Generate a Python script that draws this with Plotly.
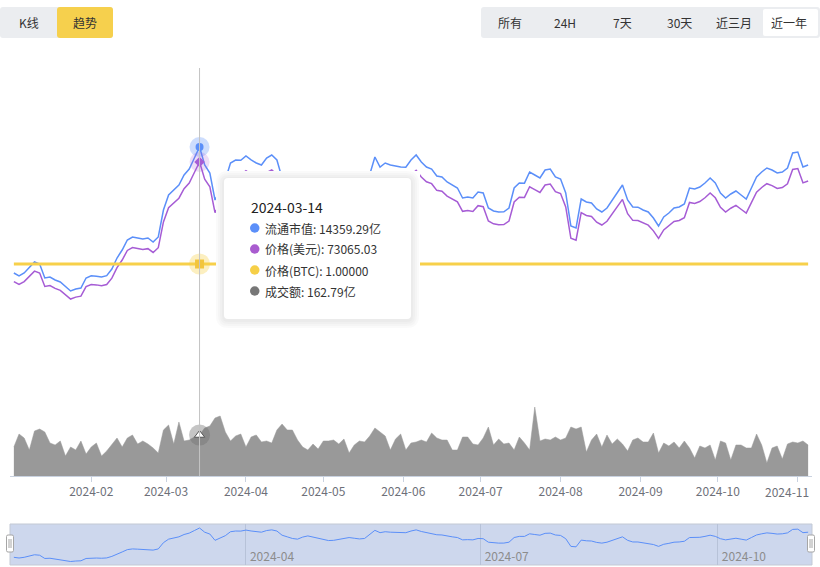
import pandas as pd
import plotly.graph_objects as go

W, H = 820, 567
FONT = "Noto Sans CJK SC, Noto Sans, sans-serif"

# ---------------- data ----------------
dates = pd.date_range("2024-01-02", periods=155, freq="2D")

market_cap = [  # 流通市值 (亿)
    8570, 8432, 8570, 8799, 9075, 8983, 8340, 8386, 8248, 8156,
    7926, 7742, 7834, 7880, 8340, 8441, 8425, 8386, 8447, 8753,
    9259, 9626, 10086, 10224, 10178, 10132, 10178, 9994, 10224, 11464,
    12154, 12383, 12613, 13073, 13348, 13854, 14359.29, 13532, 13165, 11924,
    12383, 12843, 13624, 13762, 13748, 13946, 13770, 13624, 13532, 13854,
    13992, 13762, 12935, 12613, 12292, 12154, 12567, 12797, 12567, 12383,
    12154, 11878, 11924, 12154, 12383, 12475, 12337, 12200, 12292, 13073,
    13900, 13440, 13624, 13532, 13486, 13440, 13431, 13762, 13992, 13670,
    13440, 13348, 13027, 12981, 12751, 12613, 12475, 12016, 12062, 12016,
    12292, 12246, 11556, 11418, 11373, 11380, 11556, 12475, 12705, 12698,
    13211, 13073, 12935, 13302, 13348, 12981, 12889, 12246, 10729, 10637,
    11970, 11832, 11786, 11510, 11373, 11556, 11924, 12292, 12613, 11924,
    11602, 11595, 11464, 11373, 11097, 10729, 11143, 11327, 11556, 11602,
    11740, 12475, 12429, 12521, 12705, 12935, 12705, 12246, 12016, 12200,
    12337, 12154, 11970, 12475, 12981, 13211, 13394, 13302, 13165, 13211,
    13394, 14084, 14130, 13440, 13532,
]

price_usd = [  # 价格(美元)
    43767, 43054, 43758, 44919, 46328, 45849, 42567, 42794, 42090, 41612,
    40438, 39492, 39961, 40188, 42534, 43041, 42960, 42752, 43063, 44614,
    47193, 49054, 51398, 52091, 51857, 51612, 51837, 50900, 52061, 58375,
    61876, 63042, 64200, 66542, 67928, 70503, 73065.03, 68852, 66982, 60665,
    62995, 65332, 69301, 70000, 69925, 70928, 70029, 69284, 68812, 70444,
    71143, 69970, 65762, 64120, 62486, 61782, 63877, 65043, 63870, 62932,
    61765, 60358, 60590, 61754, 62915, 63378, 62675, 61975, 62438, 66402,
    70599, 68259, 69189, 68718, 68482, 68244, 68194, 69870, 71036, 69397,
    68225, 67755, 66122, 65885, 64714, 64010, 63305, 60973, 61203, 60967,
    62366, 62128, 58624, 57919, 57689, 57721, 58611, 63267, 64432, 64392,
    66991, 66287, 65584, 67441, 67672, 65807, 65337, 62074, 54381, 53911,
    60665, 59963, 59726, 58323, 57627, 58551, 60412, 62273, 63897, 60402,
    58767, 58729, 58063, 57597, 56197, 54330, 56424, 57353, 58509, 58739,
    59435, 63152, 62916, 63377, 64307, 65467, 64299, 61972, 60806, 61733,
    62423, 61493, 60560, 63111, 65667, 66827, 67749, 67279, 66583, 66812,
    67734, 71220, 71447, 67955, 68418,
]

btc_price = [1.00000] * len(dates)  # 价格(BTC): BTC priced in BTC is always 1

volume = [  # 成交额 (亿)
    115.1, 166.7, 150.9, 103.2, 178.7, 186.6, 174.7, 131.0, 123.1, 139.0,
    79.4, 115.1, 103.2, 139.0, 87.3, 115.1, 131.0, 79.4, 99.3, 123.1,
    150.9, 115.1, 150.9, 162.8, 127.0, 139.0, 127.0, 111.2, 91.3, 182.6,
    202.5, 127.0, 214.4, 139.0, 142.9, 154.8, 162.79, 190.6, 198.5, 230.3,
    238.2, 174.7, 139.0, 158.8, 166.7, 115.1, 154.8, 162.8, 135.0, 139.0,
    131.0, 182.6, 206.4, 182.6, 182.6, 142.9, 115.1, 103.2, 127.0, 107.2,
    139.0, 139.0, 142.9, 127.0, 146.9, 91.3, 123.1, 139.0, 135.0, 158.8,
    190.6, 174.7, 158.8, 103.2, 146.9, 166.7, 103.2, 131.0, 135.0, 142.9,
    135.0, 170.7, 150.9, 142.9, 142.9, 103.2, 103.2, 154.8, 154.8, 127.0,
    123.1, 150.9, 194.5, 123.1, 146.9, 127.0, 131.0, 103.2, 154.8, 131.0,
    103.2, 273.9, 139.0, 146.9, 142.9, 154.8, 142.9, 150.9, 194.5, 186.6,
    194.5, 95.3, 142.9, 166.7, 115.1, 162.8, 127.0, 146.9, 127.0, 99.3,
    142.9, 150.9, 135.0, 135.0, 170.7, 91.3, 131.0, 119.1, 135.0, 111.2,
    139.0, 111.2, 71.5, 119.1, 111.2, 123.1, 63.5, 139.0, 131.0, 63.5,
    123.1, 123.1, 111.2, 111.2, 166.7, 123.1, 51.6, 111.2, 119.1, 67.5,
    127.0, 135.0, 131.0, 139.0, 123.1,
]

month_ticks = ["2024-02-01", "2024-03-01", "2024-04-01", "2024-05-01", "2024-06-01",
               "2024-07-01", "2024-08-01", "2024-09-01", "2024-10-01", "2024-11-01"]
month_labels = ["2024-02", "2024-03", "2024-04", "2024-05", "2024-06",
                "2024-07", "2024-08", "2024-09", "2024-10", "2024-11"]
mini_ticks = ["2024-04-01", "2024-07-01", "2024-10-01"]
mini_labels = ["2024-04", "2024-07", "2024-10"]

tabs_left = ["K线", "趋势"]
tabs_right = ["所有", "24H", "7天", "30天", "近三月", "近一年"]
series_names = ["流通市值", "价格(美元)", "价格(BTC)", "成交额"]

hover_i = 36  # 2024-03-14

BLUE = "#5b8ff9"
PURPLE = "#a65cd5"
YELLOW = "#f7d04a"
GRAY = "#999999"


def px(x):
    return x / W


def py(y):
    return 1 - y / H


def rrect(x0, y0, x1, y1, r):
    X, Y = px, py
    return (f"M {X(x0 + r)},{Y(y0)} L {X(x1 - r)},{Y(y0)} Q {X(x1)},{Y(y0)} {X(x1)},{Y(y0 + r)} "
            f"L {X(x1)},{Y(y1 - r)} Q {X(x1)},{Y(y1)} {X(x1 - r)},{Y(y1)} "
            f"L {X(x0 + r)},{Y(y1)} Q {X(x0)},{Y(y1)} {X(x0)},{Y(y1 - r)} "
            f"L {X(x0)},{Y(y0 + r)} Q {X(x0)},{Y(y0)} {X(x0 + r)},{Y(y0)} Z")


def label(text, x, y, size=12, color="#333333", xanchor="center"):
    return dict(text=text, x=px(x), y=py(y), xref="paper", yref="paper",
                xanchor=xanchor, yanchor="middle", showarrow=False,
                font=dict(size=size, color=color, family=FONT))


fig = go.Figure()

# volume area
fig.add_trace(go.Scatter(x=dates, y=volume, xaxis="x", yaxis="y4", mode="lines",
                         line=dict(color=GRAY, width=0.5), fill="tozeroy",
                         fillcolor=GRAY, hoverinfo="skip", showlegend=False))
# lines
fig.add_trace(go.Scatter(x=dates, y=market_cap, xaxis="x", yaxis="y", mode="lines",
                         line=dict(color=BLUE, width=1.5), showlegend=False, hoverinfo="skip"))
fig.add_trace(go.Scatter(x=dates, y=price_usd, xaxis="x", yaxis="y2", mode="lines",
                         line=dict(color=PURPLE, width=1.5), showlegend=False, hoverinfo="skip"))
fig.add_trace(go.Scatter(x=dates, y=btc_price, xaxis="x", yaxis="y3", mode="lines",
                         line=dict(color=YELLOW, width=3), showlegend=False, hoverinfo="skip"))
# mini (data zoom) line
fig.add_trace(go.Scatter(x=dates, y=market_cap, xaxis="x2", yaxis="y5", mode="lines",
                         line=dict(color=BLUE, width=1), showlegend=False, hoverinfo="skip"))

# hover markers
hx = [dates[hover_i]]
marks = [
    ("y", market_cap[hover_i], "rgba(91,143,249,0.30)", 20, "circle", BLUE, 8, None),
    ("y2", price_usd[hover_i], "rgba(166,92,213,0.20)", 20, "diamond", PURPLE, 8, None),
    ("y3", btc_price[hover_i], "rgba(247,208,74,0.35)", 21, "square", "#f2c53d", 9, None),
    ("y4", volume[hover_i], "rgba(110,110,110,0.40)", 21, "triangle-up", "white", 9, "#555555"),
]
for ya, val, halo, hs, sym, col, s, lc in marks:
    fig.add_trace(go.Scatter(x=hx, y=[val], xaxis="x", yaxis=ya, mode="markers",
                             marker=dict(size=hs, color=halo, line=dict(width=0)),
                             showlegend=False, hoverinfo="skip"))
    fig.add_trace(go.Scatter(x=hx, y=[val], xaxis="x", yaxis=ya, mode="markers",
                             marker=dict(size=s, color=col, symbol=sym,
                                         line=dict(width=1 if lc else 0, color=lc or col)),
                             showlegend=False, hoverinfo="skip"))

x_range = [pd.Timestamp("2023-12-31 12:00"), pd.Timestamp("2024-11-06 12:00")]
dom_x = [px(10), px(812)]

shapes = []
annotations = []

# crosshair
shapes.append(dict(type="line", xref="x", yref="paper", x0=dates[hover_i], x1=dates[hover_i],
                   y0=py(68), y1=py(476), line=dict(color="#c4c4c4", width=1), layer="above"))

# tabs
shapes.append(dict(type="path", xref="paper", yref="paper", path=rrect(0, 7, 113, 38, 3),
                   fillcolor="#ebedf0", line=dict(width=0), layer="above"))
shapes.append(dict(type="path", xref="paper", yref="paper", path=rrect(57, 7, 113, 38, 3),
                   fillcolor="#f6d04d", line=dict(width=0), layer="above"))
shapes.append(dict(type="path", xref="paper", yref="paper", path=rrect(481, 7, 820, 38, 3),
                   fillcolor="#ebedf0", line=dict(width=0), layer="above"))
shapes.append(dict(type="path", xref="paper", yref="paper", path=rrect(763, 9, 818, 36, 2),
                   fillcolor="#ffffff", line=dict(width=0), layer="above"))
for t, cx in zip(tabs_left, [28.5, 85]):
    annotations.append(label(t, cx, 22.5))
for t, cx in zip(tabs_right, [510, 565, 622, 679, 734, 789]):
    annotations.append(label(t, cx, 22.5))

# tooltip
shapes.append(dict(type="rect", xref="paper", yref="paper", x0=px(216), x1=px(420),
                   y0=py(328), y1=py(171), fillcolor="white", line=dict(width=0), layer="above"))
for k in [8, 6, 4, 2]:
    shapes.append(dict(type="path", xref="paper", yref="paper",
                       path=rrect(224 - k, 178 - k + 1, 411 + k, 319 + k + 1, 4 + k),
                       fillcolor="rgba(0,0,0,0.02)", line=dict(width=0), layer="above"))
shapes.append(dict(type="path", xref="paper", yref="paper", path=rrect(224, 178, 411, 319, 4),
                   fillcolor="white", line=dict(width=0), layer="above"))
annotations.append(label(str(dates[hover_i].date()), 248.5, 207, size=14, color="#222222",
                         xanchor="left"))
vals = [f"{market_cap[hover_i]:.2f}亿", f"{price_usd[hover_i]:.2f}",
        f"{btc_price[hover_i]:.5f}", f"{volume[hover_i]:.2f}亿"]
dot_cols = [BLUE, "#a95ccf", "#f6cf47", "#777777"]
for j, (nm, v, c) in enumerate(zip(series_names, vals, dot_cols)):
    yy = 228 + j * 21
    shapes.append(dict(type="circle", xref="paper", yref="paper", x0=px(250), x1=px(259.5),
                       y0=py(yy + 4.75), y1=py(yy - 4.75), fillcolor=c, line=dict(width=0),
                       layer="above"))
    annotations.append(label(f"{nm}: {v}", 262.5, yy, xanchor="left"))

# data zoom box
shapes.append(dict(type="rect", xref="paper", yref="paper", x0=px(10), x1=px(812),
                   y0=py(565), y1=py(524), fillcolor="#cdd7ed",
                   line=dict(color="#c3c9d4", width=1), layer="below"))
for hxp in [10, 811]:
    shapes.append(dict(type="path", xref="paper", yref="paper",
                       path=rrect(hxp - 3.5, 535, hxp + 3.5, 552, 1.5),
                       fillcolor="white", line=dict(color="#a6a6a6", width=1), layer="above"))
    for dx in [-1, 1]:
        shapes.append(dict(type="line", xref="paper", yref="paper", x0=px(hxp + dx), x1=px(hxp + dx),
                           y0=py(539), y1=py(548), line=dict(color="#a6a6a6", width=1),
                           layer="above"))

# last month label (shifted inside the right edge in the reference)
annotations.append(label(month_labels[-1], 787, 491.5, color="#6e7079"))

fig.update_layout(
    width=W, height=H, margin=dict(l=0, r=0, t=0, b=0),
    paper_bgcolor="white", plot_bgcolor="rgba(0,0,0,0)",
    font=dict(family=FONT), showlegend=False, hovermode=False,
    xaxis=dict(domain=dom_x, range=x_range, anchor="y4", type="date",
               tickvals=month_ticks, ticktext=month_labels[:-1] + [""],
               showline=True, linecolor="#c9d2e0", linewidth=1, ticks="outside", ticklen=5,
               tickcolor="#c9d2e0", showgrid=False, zeroline=False,
               tickfont=dict(size=12, color="#6e7079", family=FONT)),
    yaxis=dict(domain=[py(400), py(70)], range=[2733.9, 17897.4], visible=False),
    yaxis2=dict(overlaying="y", range=[14755, 95605], visible=False),
    yaxis3=dict(overlaying="y", range=[-0.36, 2.94], visible=False),
    yaxis4=dict(domain=[py(476), py(396)], range=[0, 317.6], visible=False, anchor="x"),
    xaxis2=dict(domain=dom_x, range=x_range, anchor="y5", type="date",
                tickvals=mini_ticks, ticktext=mini_labels, ticks="",
                ticklabelposition="inside right", ticklabelshift=4, ticklabelstandoff=-4,
                showgrid=True, gridcolor="#b7c2d8",
                gridwidth=1, showline=False, zeroline=False,
                tickfont=dict(size=12, color="#8c8c8c", family=FONT)),
    yaxis5=dict(domain=[py(565), py(524)], range=[7050, 15150], visible=False, anchor="x2"),
    shapes=shapes, annotations=annotations,
)

fig.write_html("out.html", config={"displayModeBar": False},
               post_script="document.body.style.margin='0';document.body.style.overflow='hidden';")
